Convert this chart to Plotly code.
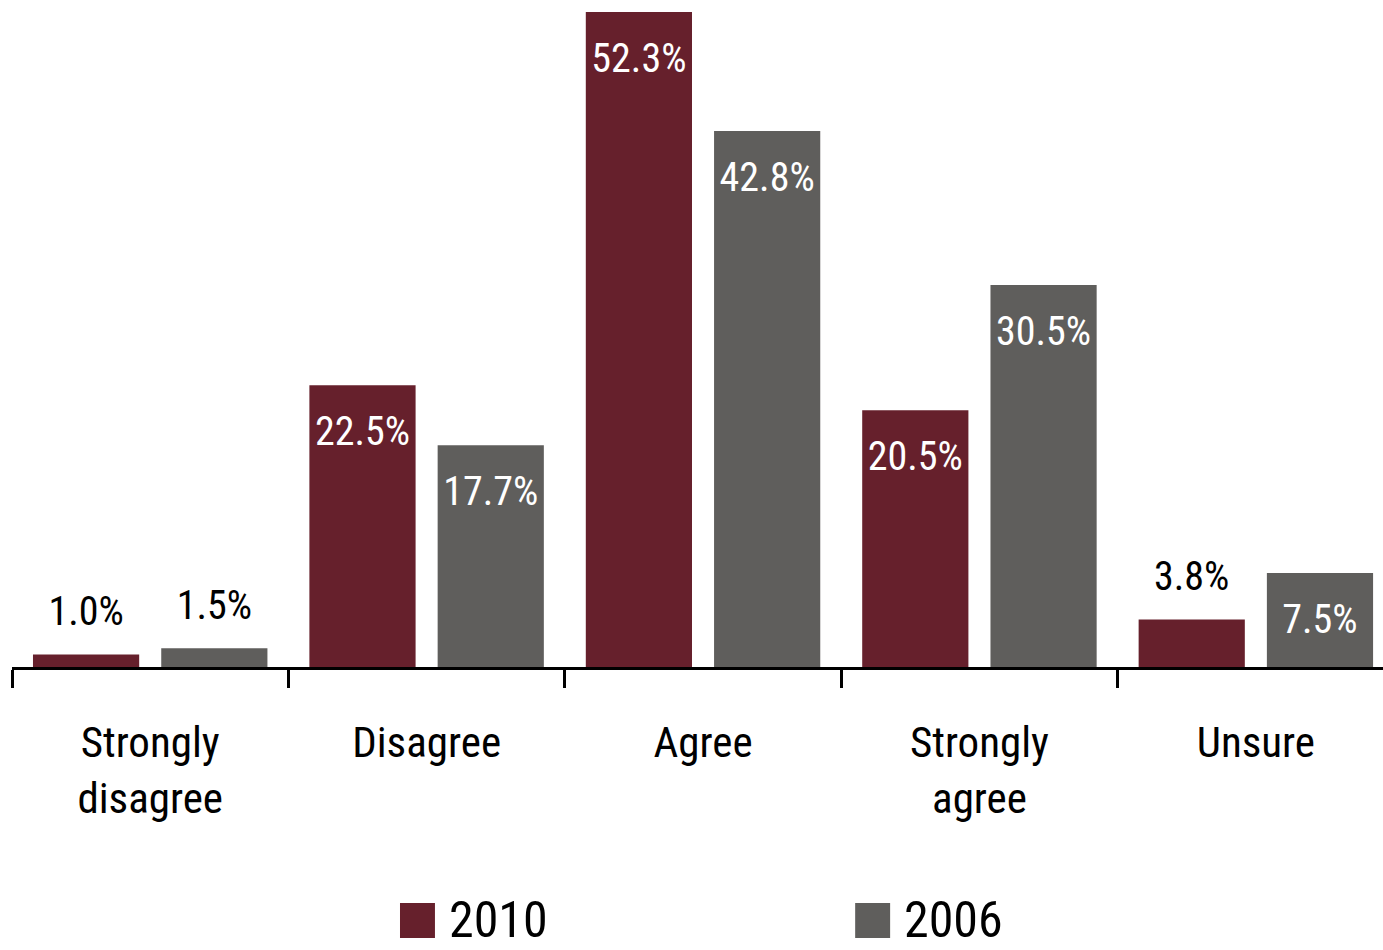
import plotly.graph_objects as go

categories = ["Strongly<br>disagree", "Disagree", "Agree", "Strongly<br>agree", "Unsure"]
series_names = ["2010", "2006"]
values_2010 = [1.0, 22.5, 52.3, 20.5, 3.8]
values_2006 = [1.5, 17.7, 42.8, 30.5, 7.5]
colors = ["#66202C", "#5F5E5C"]

FONT = "Roboto Condensed, Liberation Sans Narrow, Liberation Sans, Arial, sans-serif"
INSIDE_MIN = 5.0

fig = go.Figure()
all_vals = [values_2010, values_2006]
for name, vals, col in zip(series_names, all_vals, colors):
    fig.add_trace(go.Bar(
        x=categories, y=vals, name=name, marker=dict(color=col, line=dict(width=0)),
        offsetgroup=name, showlegend=False, hoverinfo="skip",
    ))

for name, vals in zip(series_names, all_vals):
    inside = [v >= INSIDE_MIN for v in vals]
    fig.add_trace(go.Scatter(
        x=categories, y=vals, mode="markers+text", offsetgroup=name,
        text=[f"{v:.1f}%" for v in vals],
        textposition=["bottom center" if i else "top center" for i in inside],
        textfont=dict(family=FONT, size=40,
                      color=["white" if i else "black" for i in inside]),
        marker=dict(size=[46 if i else 29 for i in inside], opacity=0, color="white"),
        showlegend=False, hoverinfo="skip", cliponaxis=False,
    ))

fig.update_layout(
    width=1383, height=950,
    margin=dict(l=12, r=0, t=0, b=283),
    paper_bgcolor="white", plot_bgcolor="white",
    barmode="group", bargap=0.072, bargroupgap=0.172,
    scattermode="group", scattergap=0.072,
    font=dict(family=FONT, color="black"),
    showlegend=False,
)
fig.update_xaxes(
    range=[-0.5, 4.46], showline=True, linecolor="black", linewidth=3,
    ticks="outside", ticklen=18, tickwidth=3, tickcolor="black",
    tickson="boundaries", showgrid=False, zeroline=False,
    tickfont=dict(family=FONT, size=43, color="black"), ticklabelstandoff=35,
)
fig.update_yaxes(range=[0, 53.25], visible=False, showgrid=False, zeroline=False)

# manual legend (large swatches)
legend_x = [0.283, 0.615]
for name, col, lx in zip(series_names, colors, legend_x):
    fig.add_shape(type="rect", xref="paper", yref="paper",
                  x0=lx, x1=lx + 0.0255, y0=-0.4063, y1=-0.3538,
                  fillcolor=col, line=dict(width=0))
    fig.add_annotation(text=name, xref="paper", yref="paper", x=lx + 0.034, y=-0.3797,
                       xanchor="left", yanchor="middle", showarrow=False,
                       font=dict(family=FONT, size=50, color="black"))

fig.write_html(
    "out.html",
    config={"displayModeBar": False},
    post_script="document.body.style.margin='0';document.body.style.padding='0';",
)
